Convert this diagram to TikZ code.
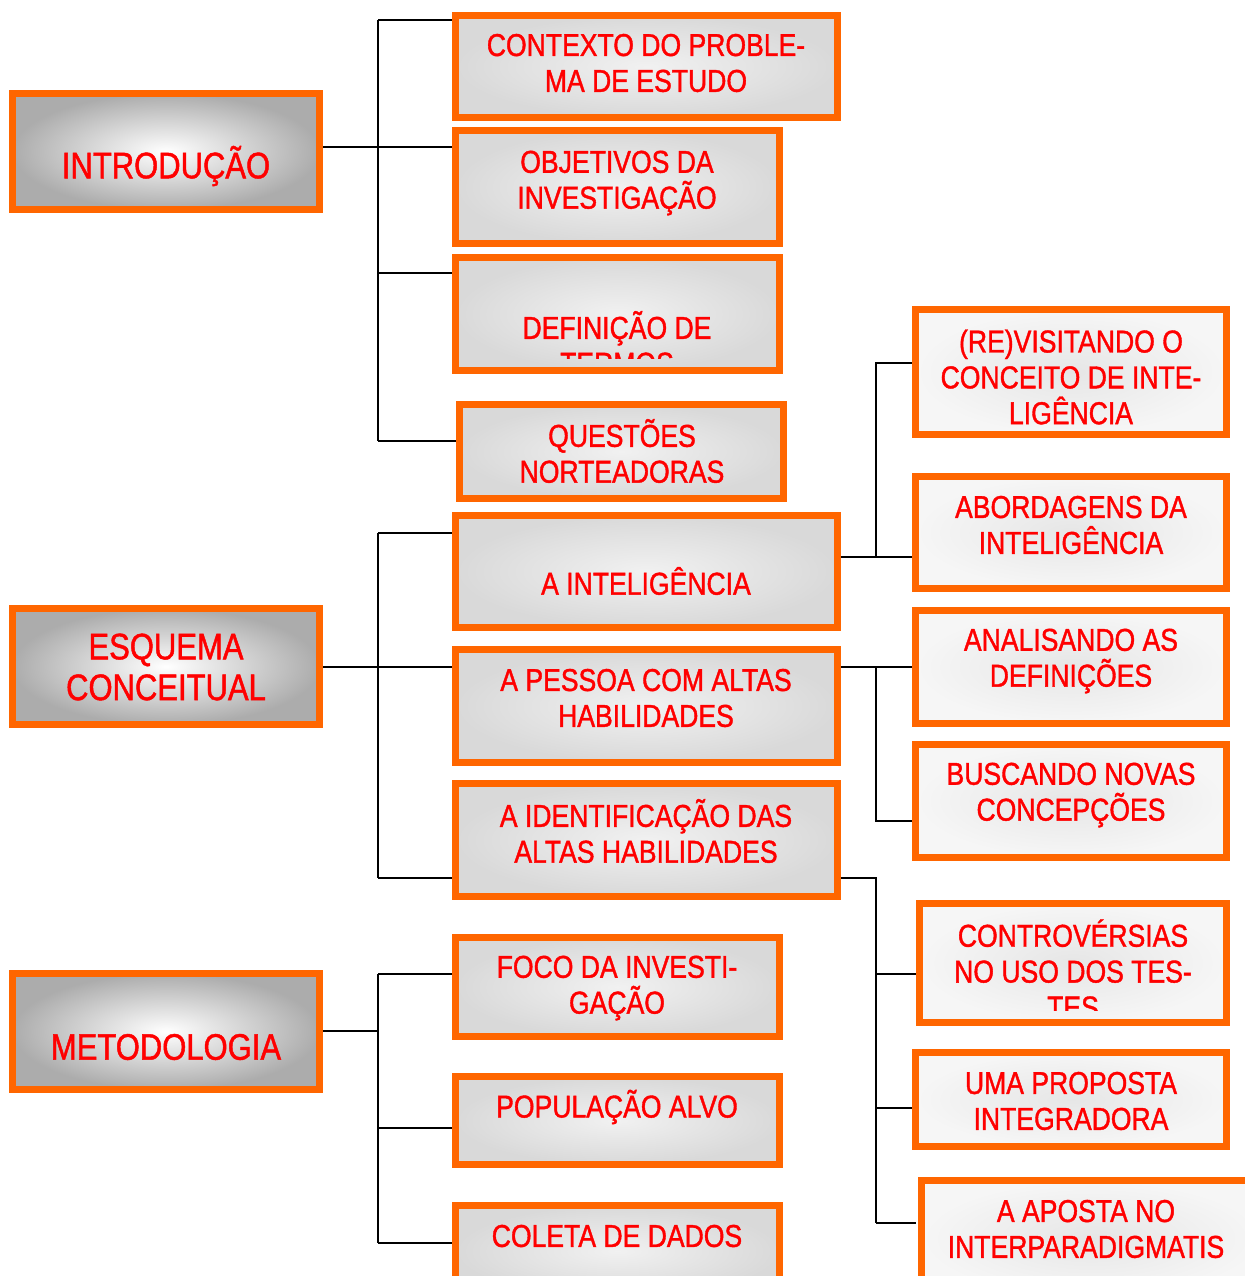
\documentclass[tikz,border=0pt]{standalone}
\usepackage{fontspec}
\setmainfont{Liberation Sans}[FakeStretch=0.84, FakeBold=1.2]

\definecolor{laranja}{HTML}{FF6600}
\definecolor{vermelho}{HTML}{FF0000}
\definecolor{cinzaA}{HTML}{ACACAC}
\definecolor{cinzaB}{HTML}{D9D9D9}
\definecolor{cinzaC}{HTML}{F1F1F1}
\definecolor{cinzaD}{HTML}{E6E6E6}
\definecolor{cinzaE}{HTML}{F6F6F6}

\tikzset{
  caixa/.style={draw=laranja, line width=4pt, inner sep=0pt, outer sep=0pt, anchor=north west},
  principal/.style={caixa, inner color=white, outer color=cinzaA},
  secundaria/.style={caixa, inner color=cinzaC, outer color=cinzaB},
  folha/.style={caixa, inner color=cinzaD, outer color=cinzaE},
  rotulo/.style={text=vermelho, align=center, inner sep=0pt, font=\fontsize{18}{20.4}\selectfont},
  titulo/.style={rotulo, font=\fontsize{21}{23.2}\selectfont},
  liga/.style={black, line width=1.1pt},
}

\begin{document}
\begin{tikzpicture}[x=0.02cm, y=-0.02cm]

% --- Moldura (1 unidade = 1 px da figura) ---
\clip (0,0) rectangle (1245,1276);

% --- Ligações: Introdução ---
\draw[liga] (323,147) -- (378,147);
\draw[liga] (378,20) -- (378,441);
\foreach \y in {20, 147, 273, 441}
  \draw[liga] (378,\y) -- (456,\y);

% --- Ligações: Esquema conceitual ---
\draw[liga] (323,667) -- (378,667);
\draw[liga] (378,533) -- (378,878);
\foreach \y in {533, 667, 878}
  \draw[liga] (378,\y) -- (452,\y);

% --- Ligações: Metodologia ---
\draw[liga] (323,1031) -- (378,1031);
\draw[liga] (378,974) -- (378,1243);
\foreach \y in {974, 1128, 1243}
  \draw[liga] (378,\y) -- (452,\y);

% --- Ligações: terceiro nível ---
\draw[liga] (841,557) -- (916,557);
\draw[liga] (876,557) |- (912,363);
\draw[liga] (841,667) -- (912,667);
\draw[liga] (876,667) |- (912,821);
\draw[liga] (841,878) -| (876,1223);
\foreach \y in {974, 1108, 1223}
  \draw[liga] (876,\y) -- (916,\y);

% --- Caixas (canto sup. esq. / inf. dir., em px) ---
\foreach \n/\s/\xa/\ya/\xb/\yb in {
    intro/principal/9/90/323/213,
    esquema/principal/9/605/323/728,
    metodo/principal/9/970/323/1093,
    contexto/secundaria/452/12/841/121,
    objetivos/secundaria/452/127/783/247,
    definicao/secundaria/452/254/783/374,
    questoes/secundaria/456/401/787/502,
    inteligencia/secundaria/452/512/841/631,
    pessoa/secundaria/452/646/841/766,
    identificacao/secundaria/452/780/841/900,
    foco/secundaria/452/934/783/1040,
    populacao/secundaria/452/1073/783/1168,
    coleta/secundaria/452/1202/783/1300,
    revisitando/folha/912/306/1230/438,
    abordagens/folha/912/473/1230/592,
    analisando/folha/912/607/1230/727,
    buscando/folha/912/741/1230/861,
    controversias/folha/916/900/1230/1026,
    proposta/folha/912/1049/1230/1150,
    aposta/folha/918/1177/1265/1300} {
  \node[\s, minimum width={(\xb-\xa-7)*0.02cm}, minimum height={(\yb-\ya-7)*0.02cm}]
    (\n) at (\xa+3.5,\ya+3.5) {};
}

% --- Títulos ---
\node[titulo] (intro-t) at (166,166) {INTRODUÇÃO};
\node[titulo] (esquema-t) at (166,667) {ESQUEMA\\CONCEITUAL};
\node[titulo] (metodo-t) at (166,1047) {METODOLOGIA};

% --- Textos das caixas ---
\foreach \n/\x/\y/\txt in {
    contexto/646/63/{CONTEXTO DO PROBLE-\\MA DE ESTUDO},
    objetivos/617/183/{OBJETIVOS DA\\INVESTIGAÇÃO},
    questoes/622/451/{QUESTÕES\\NORTEADORAS},
    inteligencia/646/581/{A INTELIGÊNCIA},
    pessoa/646/698/{A PESSOA COM ALTAS\\HABILIDADES},
    identificacao/646/831/{A IDENTIFICAÇÃO DAS\\ALTAS HABILIDADES},
    foco/617/988/{FOCO DA INVESTI-\\GAÇÃO},
    populacao/617/1107/{POPULAÇÃO ALVO},
    coleta/617/1236/{COLETA DE DADOS},
    revisitando/1071/377/{(RE)VISITANDO O\\CONCEITO DE INTE-\\LIGÊNCIA},
    abordagens/1071/525/{ABORDAGENS DA\\INTELIGÊNCIA},
    analisando/1071/661/{ANALISANDO AS\\DEFINIÇÕES},
    buscando/1071/795/{BUSCANDO NOVAS\\CONCEPÇÕES},
    proposta/1071/1101/{UMA PROPOSTA\\INTEGRADORA},
    aposta/1086/1229/{A APOSTA NO\\INTERPARADIGMATIS}} {
  \node[rotulo] (\n-t) at (\x,\y) {\txt};
}

% --- Textos cortados ---
\begin{scope}
  \clip (452,254) rectangle (783,358);
  \node[rotulo] (definicao-t) at (617,343) {DEFINIÇÃO DE\\TERMOS};
\end{scope}
\begin{scope}
  \clip (916,900) rectangle (1230,1010);
  \node[rotulo] (controversias-t) at (1073,969) {CONTROVÉRSIAS\\NO USO DOS TES-\\TES};
\end{scope}

\end{tikzpicture}
\end{document}
